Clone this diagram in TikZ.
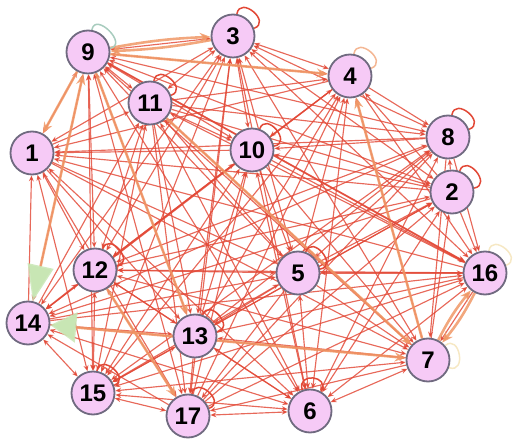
\documentclass[tikz,border=0pt]{standalone}
\usepackage{fontspec}
\setsansfont{Liberation Sans}
\usetikzlibrary{arrows.meta, backgrounds}
\definecolor{vfill}{RGB}{246,202,246}
\definecolor{vline}{RGB}{112,106,128}
\definecolor{ered}{RGB}{226,72,54}
\definecolor{eorange}{RGB}{240,152,102}
\definecolor{egreen}{RGB}{200,230,180}
\definecolor{lgreen}{RGB}{168,204,190}
\definecolor{lyellow}{RGB}{246,232,196}
\tikzset{vtx/.style={circle, draw=vline, line width=1.8pt, fill=vfill, minimum size=43pt, inner sep=0pt,
		font=\sffamily\bfseries\fontsize{24}{24}\selectfont}}
\tikzset{earr/.style={draw=ered, line width=1.15pt, draw opacity=0.82, -{Stealth[length=6pt,width=5pt]}}}
\tikzset{tarr/.style={draw=eorange, line width=2.6pt, draw opacity=0.85, -{Stealth[length=11pt,width=9pt]}}}
\tikzset{rarr/.style={draw=ered, line width=1.8pt, draw opacity=0.8, -{Stealth[length=8pt,width=6pt]}}}
\tikzset{lp/.style={draw=ered, line width=1.5pt, loop, min distance=19pt}}
\begin{document}
\begin{tikzpicture}[x=1pt, y=-1pt]
	\useasboundingbox (0,0) rectangle (520,446);
	% vertices
	\node[vtx] (n1) at (32,153) {1};
	\node[vtx] (n2) at (452,192) {2};
	\node[vtx] (n3) at (233,36) {3};
	\node[vtx] (n4) at (350,76) {4};
	\node[vtx] (n5) at (298,273) {5};
	\node[vtx] (n6) at (310,411) {6};
	\node[vtx] (n7) at (428,360) {7};
	\node[vtx] (n8) at (448,137) {8};
	\node[vtx] (n9) at (88,52) {9};
	\node[vtx] (n10) at (252,150) {10};
	\node[vtx] (n11) at (150,103) {11};
	\node[vtx] (n12) at (95,270) {12};
	\node[vtx] (n13) at (195,336) {13};
	\node[vtx] (n14) at (28,323) {14};
	\node[vtx] (n15) at (93,393) {15};
	\node[vtx] (n16) at (485,273) {16};
	\node[vtx] (n17) at (188,416) {17};

	\begin{scope}[on background layer]
	% every pair, one or two arrows
	\foreach \a in {1,...,16} {
		\pgfmathtruncatemacro\nxt{\a+1}
		\foreach \b in {\nxt,...,17} {
			\pgfmathtruncatemacro\parity{mod(\a+\b,2)}
			\pgfmathtruncatemacro\both{mod(\a*\b,3)}
			\ifnum\both=0
				\draw[earr, {Stealth[length=6pt,width=5pt]}-{Stealth[length=6pt,width=5pt]}] (n\a) -- (n\b);
			\else\ifnum\parity=0
				\draw[earr] (n\a) -- (n\b);
			\else
				\draw[earr] (n\b) -- (n\a);
			\fi\fi
		}
	}
	% heavier ones
	\draw[tarr] (n9) to[bend left=4] (n3);
	\draw[tarr] (n3) to[bend left=4] (n9);
	\draw[tarr] (n9) -- (n1);
	\draw[tarr] (n9) -- (n4);
	\draw[tarr] (n9) -- (n13);
	\draw[tarr] (n11) -- (n7);
	\draw[tarr] (n12) -- (n17);
	\draw[tarr] (n7) -- (n4);
	\draw[tarr] (n7) to[bend left=6] (n16);
	\draw[tarr] (n16) to[bend left=6] (n7);
	\draw[rarr] (n9) -- (n16);
	\draw[tarr, {Triangle[length=36pt,width=26pt,color=egreen]}-{Stealth[length=11pt,width=9pt]}] (n14) -- (n9);
	\draw[tarr, {Triangle[length=26pt,width=30pt,color=egreen]}-{Stealth[length=11pt,width=9pt]}] (n14) -- (n7);
	% loops
	\draw[lp, draw=lgreen] (n9) to[out=80, in=10] (n9);
	\draw[lp] (n3) to[out=80, in=20] (n3);
	\draw[lp] (n11) to[out=80, in=20] (n11);
	\draw[lp, draw=eorange!70] (n4) to[out=80, in=20] (n4);
	\draw[lp] (n8) to[out=80, in=20] (n8);
	\draw[lp] (n2) to[out=70, in=10] (n2);
	\draw[lp] (n10) to[out=70, in=10] (n10);
	\draw[lp] (n5) to[out=70, in=10] (n5);
	\draw[lp] (n12) to[out=70, in=10] (n12);
	\draw[lp] (n13) to[out=70, in=10] (n13);
	\draw[lp] (n15) to[out=80, in=20] (n15);
	\draw[lp] (n17) to[out=80, in=20] (n17);
	\draw[lp] (n6) to[out=110, in=60] (n6);
	\draw[lp, draw=lyellow] (n16) to[out=80, in=20] (n16);
	\draw[lp, draw=lyellow] (n7) to[out=40, in=-20] (n7);
	\end{scope}
\end{tikzpicture}
\end{document}
